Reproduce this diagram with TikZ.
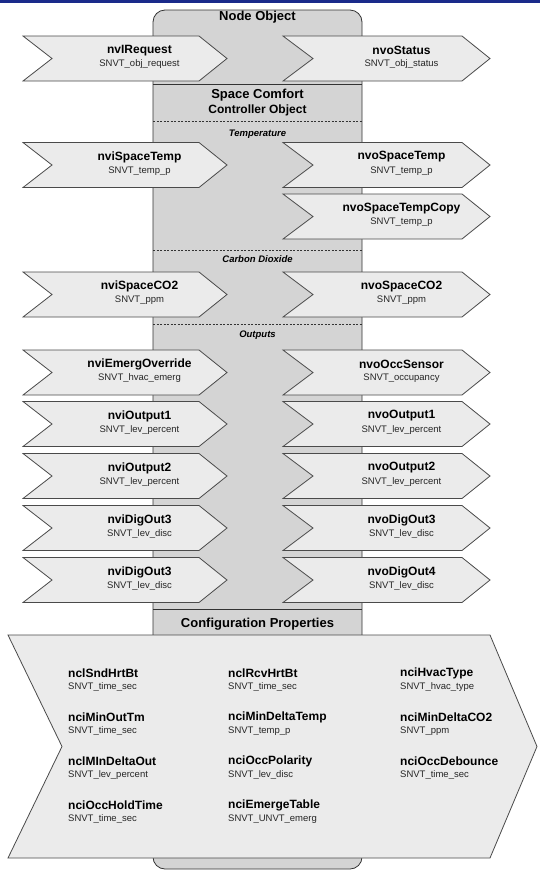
\documentclass[tikz,border=0pt]{standalone}
\usepackage{fontspec}
\setmainfont{Liberation Sans}
\definecolor{colgray}{HTML}{D4D4D4}
\definecolor{chevgray}{HTML}{EBEBEB}
\definecolor{edgegray}{HTML}{4A4A4A}
\definecolor{topblue}{HTML}{1A2A8A}
\tikzset{chev/.append style={fill=chevgray, draw=edgegray, line width=0.8pt}}
\tikzset{nvname/.append style={font=\bfseries\fontsize{12}{14}\selectfont, inner sep=0pt}}
\tikzset{nvtype/.append style={font=\fontsize{9.5}{11}\selectfont, inner sep=0pt, text=black!85}}
\tikzset{hdr/.append style={font=\bfseries\fontsize{13}{15}\selectfont, inner sep=0pt}}
\tikzset{sect/.append style={font=\bfseries\itshape\fontsize{9.5}{11}\selectfont, inner sep=0pt}}
\tikzset{sep/.append style={draw=black!80, line width=0.8pt}}

\begin{document}
\begin{tikzpicture}[x=1pt,y=-1pt]
                \useasboundingbox (0,0) rectangle (540,871);
                \fill[white] (0,0) rectangle (540,871);
                \fill[topblue] (0,0) rectangle (540,2.5);
                % object column
                \draw[fill=colgray, draw=black!80, line width=0.8pt, rounded corners=12]
                    (257,869) -- (153,869) -- (153,10) -- (362,10) -- (362,869) -- cycle;
                \draw[sep] (153,84) -- (362,84);
                \draw[sep] (153,609) -- (362,609);
                \foreach \yd in {121,250,324}
                    \draw[sep, line width=0.6pt, dash pattern=on 2pt off 1.5pt] (153,\yd) -- (362,\yd);
                \node[hdr] (nodeobj) at (257.5,17) {Node Object};
                \node[hdr] (scc) at (257.5,95) {Space Comfort};
                \node[hdr, font=\bfseries\fontsize{12}{14}\selectfont] (ctrl) at (257.5,110.5) {Controller Object};
                \node[sect] (temp) at (257.5,134) {Temperature};
                \node[sect] (co2) at (257.5,259) {Carbon Dioxide};
                \node[sect] (outs) at (257.5,335) {Outputs};
                % inputs
                \foreach \yc/\nm/\ty [count=\i] in {58.5/nvIRequest/SNVT\_obj\_request,
                        165/nviSpaceTemp/SNVT\_temp\_p, 294.5/nviSpaceCO2/SNVT\_ppm,
                        372.5/nviEmergOverride/SNVT\_hvac\_emerg, 424/nviOutput1/SNVT\_lev\_percent,
                        476/nviOutput2/SNVT\_lev\_percent, 528/nviDigOut3/SNVT\_lev\_disc,
                        580/nviDigOut3/SNVT\_lev\_disc} {
                    \draw[chev] (23,\yc-22.5) -- (199,\yc-22.5) -- (227,\yc) -- (199,\yc+22.5)
                        -- (23,\yc+22.5) -- (52,\yc) -- cycle;
                    \node[nvname] (in\i) at (139.5,\yc-8) {\nm};
                    \node[nvtype] (intype\i) at (139.5,\yc+6) {\ty};
                }
                % outputs
                \foreach \yc/\nm/\ty [count=\i] in {58.5/nvoStatus/SNVT\_obj\_status,
                        165/nvoSpaceTemp/SNVT\_temp\_p, 216.5/nvoSpaceTempCopy/SNVT\_temp\_p,
                        294.5/nvoSpaceCO2/SNVT\_ppm, 372.5/nvoOccSensor/SNVT\_occupancy,
                        424/nvoOutput1/SNVT\_lev\_percent, 476/nvoOutput2/SNVT\_lev\_percent,
                        528/nvoDigOut3/SNVT\_lev\_disc, 580/nvoDigOut4/SNVT\_lev\_disc} {
                    \draw[chev] (283,\yc-22.5) -- (462,\yc-22.5) -- (490,\yc) -- (462,\yc+22.5)
                        -- (283,\yc+22.5) -- (313,\yc) -- cycle;
                    \node[nvname] (out\i) at (401.5,\yc-8) {\nm};
                    \node[nvtype] (outtype\i) at (401.5,\yc+6) {\ty};
                }
                \node[hdr] (cfg) at (257.5,624) {Configuration Properties};
                % configuration properties
                \draw[chev] (8,635) -- (490,635) -- (537,746.5) -- (490,858) -- (8,858) -- (62,746.5) -- cycle;
                \foreach \x/\yc/\nm/\ty [count=\i] in {68/673/nclSndHrtBt/SNVT\_time\_sec,
                        68/717/nciMinOutTm/SNVT\_time\_sec, 68/761/nclMInDeltaOut/SNVT\_lev\_percent,
                        68/805/nciOccHoldTime/SNVT\_time\_sec, 228/673/nclRcvHrtBt/SNVT\_time\_sec,
                        228/717/nciMinDeltaTemp/SNVT\_temp\_p, 228/761/nciOccPolarity/SNVT\_lev\_disc,
                        228/805/nciEmergeTable/SNVT\_UNVT\_emerg, 400/673/nciHvacType/SNVT\_hvac\_type,
                        400/717/nciMinDeltaCO2/SNVT\_ppm, 400/761/nciOccDebounce/SNVT\_time\_sec} {
                    \node[nvname, anchor=west] (nci\i) at (\x,\yc) {\nm};
                    \node[nvtype, anchor=west] (ncitype\i) at (\x,\yc+14) {\ty};
                }
            \end{tikzpicture}
\end{document}
